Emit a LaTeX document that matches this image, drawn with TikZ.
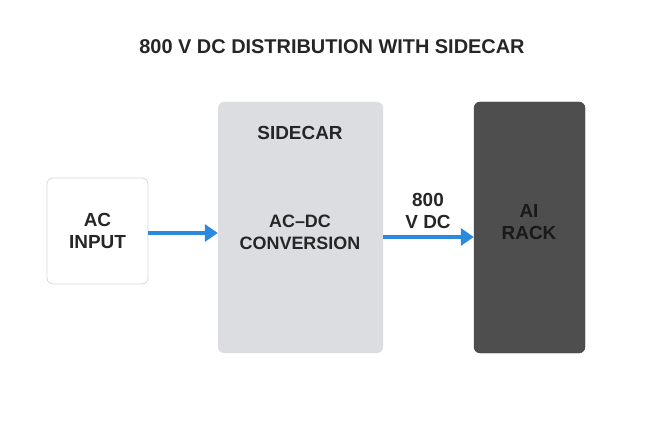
\documentclass[tikz,border=0pt]{standalone}
\usepackage{fontspec}
\setmainfont{Liberation Sans}
\usetikzlibrary{arrows.meta}
\definecolor{arr}{HTML}{2B8AE0}
\definecolor{side}{HTML}{DCDDE0}
\definecolor{rack}{HTML}{4E4E4E}
\begin{document}
\begin{tikzpicture}[x=1bp,y=-1bp,
  lbl/.style={font=\bfseries\fontsize{19}{22}\selectfont, align=center, text=black!85},
  conn/.style={draw=arr, line width=3.5bp, -{Triangle[length=13bp,width=17bp]}}]
\useasboundingbox[fill=white] (0,0) rectangle (664,443);
\node[font=\bfseries\fontsize{20}{24}\selectfont, text=black!85] (title) at (332,47) {800 V DC DISTRIBUTION WITH SIDECAR};
\node[draw=black!15, line width=0.8bp, fill=white, rounded corners=6bp, minimum width=101bp, minimum height=106bp] (ac) at (97.5,231) {};
\node[lbl] at (ac) {AC\\INPUT};
\node[fill=side, rounded corners=6bp, minimum width=165bp, minimum height=251bp] (sc) at (300.5,227.5) {};
\node[lbl] (sct) at (300,133) {SIDECAR};
\node[lbl, font=\bfseries\fontsize{18}{22}\selectfont] (conv) at (300,232) {AC--DC\\CONVERSION};
\node[draw=black!75, fill=rack, rounded corners=6bp, minimum width=111bp, minimum height=251bp] (rk) at (529.5,227.5) {};
\node[lbl, text=black!90] at (529,222) {AI\\RACK};
\node[lbl] (v) at (428,211) {800\\V DC};
\draw[conn] (ac.east |- 0,233) -- (sc.west |- 0,233);
\draw[conn] (sc.east |- 0,237) -- (rk.west |- 0,237);
\end{tikzpicture}
\end{document}
